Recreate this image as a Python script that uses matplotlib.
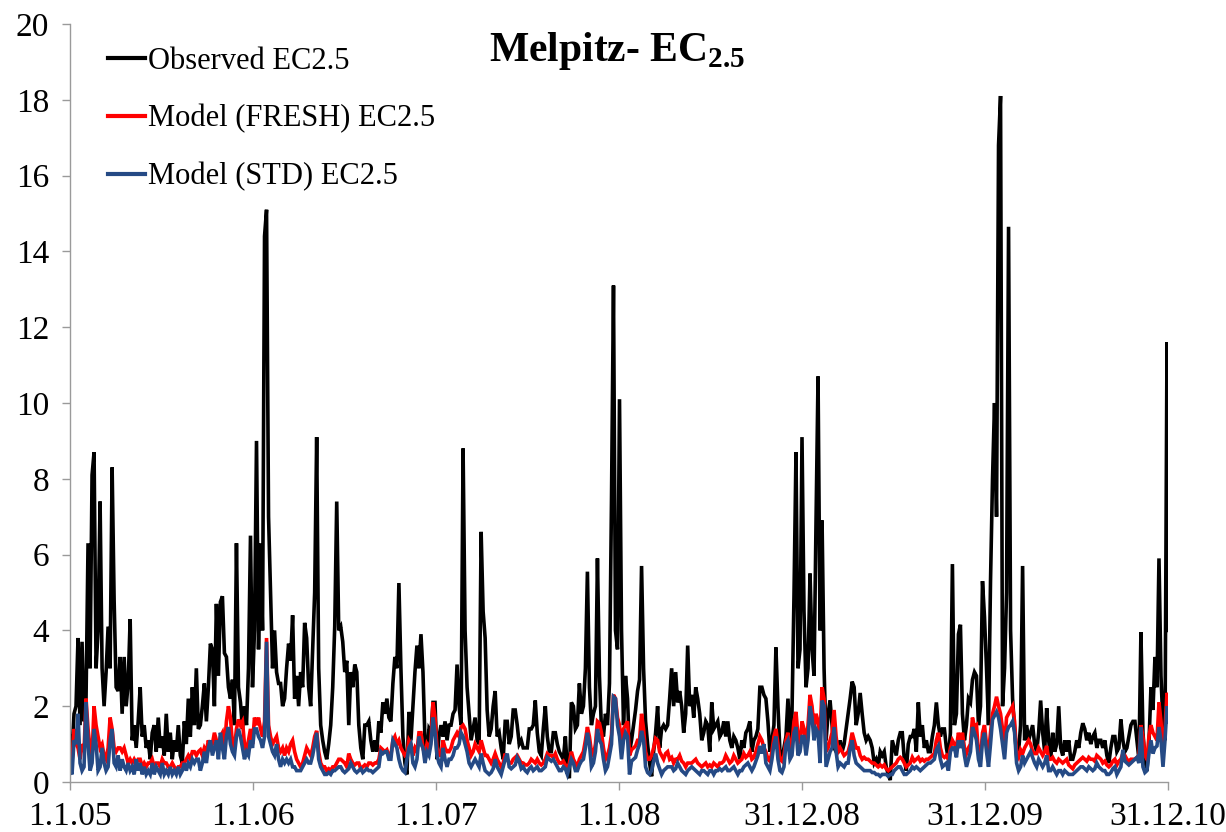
import numpy as np
import pandas as pd
import matplotlib
matplotlib.use("Agg")
import matplotlib.pyplot as plt

# ---------------- data (one value every 4 days) ----------------
start_date = "2005-01-01"
step_days = 4

observed = [
    1.2, 0.8, 1.8, 2.0, 3.8, 1.5, 3.7, 1.6, 2.2, 6.3,
    3.0, 8.1, 8.7, 3.0, 4.0, 7.4, 3.0, 2.0, 2.9, 4.1,
    3.0, 8.3, 4.8, 2.5, 2.4, 3.3, 1.8, 3.3, 2.0, 2.6,
    4.3, 1.1, 1.5, 0.9, 1.6, 2.5, 1.2, 1.5, 0.9, 1.1,
    0.6, 1.3, 1.5, 0.8, 1.7, 0.9, 1.2, 0.7, 1.8, 0.8,
    1.3, 0.6, 1.1, 0.8, 1.5, 0.7, 0.5, 1.6, 1.0, 2.2,
    1.2, 2.5, 1.5, 3.0, 1.4, 1.5, 2.0, 2.6, 1.6, 2.5,
    3.65, 3.5, 2.0, 4.7, 2.8, 4.75, 4.9, 3.4, 3.3, 2.5,
    2.2, 2.7, 1.5, 6.3, 2.5, 2.1, 1.4, 2.0, 1.5, 3.0,
    6.5, 2.5, 4.0, 9.0, 3.5, 6.3, 4.0, 14.4, 15.1, 7.0,
    5.0, 3.0, 4.0, 2.9, 2.6, 2.6, 2.0, 2.2, 3.0, 3.65,
    3.2, 4.4, 2.2, 2.8, 2.0, 2.9, 2.5, 4.2, 3.8, 2.5,
    2.0, 3.5, 5.0, 9.1, 3.0, 1.5, 1.1, 0.8, 0.6, 1.0,
    1.5, 2.5, 4.1, 7.4, 4.0, 4.1, 3.7, 2.9, 3.2, 1.5,
    2.9, 2.5, 3.1, 2.9, 1.5, 0.9, 0.6, 1.5, 1.5, 1.6,
    1.1, 0.8, 1.1, 0.8, 1.6, 1.3, 2.1, 1.8, 2.2, 1.7,
    1.6, 2.6, 3.3, 3.0, 5.25, 3.0, 1.2, 0.5, 0.2, 1.85,
    1.1, 2.0, 2.9, 3.6, 3.0, 3.9, 2.9, 1.1, 0.7, 1.4,
    1.3, 2.1, 2.1, 0.6, 1.2, 1.5, 1.2, 1.6, 1.1, 1.5,
    1.5, 1.8, 1.9, 3.1, 2.0, 1.5, 8.8, 4.0, 2.5, 1.8,
    1.1, 1.4, 1.7, 1.1, 1.0, 6.6, 4.5, 3.8, 1.9, 1.2,
    1.4, 2.0, 2.4, 1.2, 1.3, 0.9, 0.6, 1.6, 1.6, 1.0,
    1.2, 1.9, 1.9, 1.5, 1.0, 1.1, 0.9, 0.9, 0.9, 1.4,
    1.4, 1.5, 2.15, 1.3, 0.8, 0.7, 1.4, 2.0, 1.2, 0.8,
    0.8, 1.3, 1.3, 1.0, 0.8, 0.7, 0.6, 1.2, 0.3, 0.1,
    2.1, 2.0, 1.4, 1.5, 2.6, 1.8, 2.0, 3.0, 5.55, 2.5,
    1.5, 1.8, 2.0, 5.9, 2.8, 1.4, 1.2, 1.8, 1.5, 2.6,
    7.4, 13.1, 4.0, 3.5, 10.1, 4.0, 1.5, 2.8, 2.2, 0.8,
    1.1, 1.5, 1.9, 2.4, 2.7, 5.7, 3.0, 1.6, 1.0, 0.5,
    0.15, 0.8, 1.3, 2.0, 0.9, 1.4, 1.5, 1.4, 1.5, 2.2,
    3.0, 2.0, 2.9, 2.1, 2.4, 2.0, 1.3, 1.8, 3.6, 2.0,
    2.3, 1.7, 2.5, 2.2, 1.8, 1.1, 1.3, 1.6, 1.5, 0.8,
    2.1, 1.4, 1.5, 1.6, 1.2, 1.3, 1.6, 1.2, 1.6, 1.1,
    0.9, 1.2, 1.1, 0.9, 0.6, 1.1, 0.9, 1.3, 1.4, 1.6,
    0.8, 1.1, 1.2, 1.4, 2.5, 2.5, 2.3, 2.2, 1.6, 0.8,
    1.1, 1.5, 3.55, 2.0, 0.8, 0.6, 0.9, 1.2, 2.2, 1.1,
    1.8, 4.9, 8.7, 3.0, 3.5, 9.1, 4.5, 2.5, 3.0, 5.5,
    3.5, 2.8, 6.9, 10.7, 4.0, 6.9, 3.0, 1.1, 1.8, 2.15,
    1.5, 0.9, 0.8, 0.8, 1.1, 0.8, 1.0, 1.4, 1.8, 2.2,
    2.65, 2.5, 1.5, 1.8, 2.35, 1.8, 1.3, 1.1, 1.2, 1.1,
    0.9, 0.5, 0.6, 0.4, 0.8, 0.7, 0.8, 0.4, 0.2, 0.05,
    1.1, 0.9, 0.7, 1.1, 1.3, 1.3, 0.6, 0.3, 1.0, 1.2,
    1.2, 1.4, 0.8, 2.1, 1.2, 1.5, 0.9, 1.1, 0.8, 0.8,
    1.2, 1.5, 2.1, 1.5, 1.2, 1.4, 1.4, 0.9, 0.6, 1.3,
    5.75, 1.5, 1.8, 3.9, 4.15, 1.8, 1.1, 1.5, 2.2, 2.1,
    2.7, 2.9, 2.8, 1.5, 2.0, 5.3, 4.35, 3.0, 1.5, 5.3,
    8.0, 10.0, 7.0, 16.8, 18.1, 2.0, 3.0, 5.0, 14.65, 4.0,
    2.2, 1.4, 0.7, 0.8, 1.5, 5.7, 1.1, 1.5, 1.1, 1.3,
    1.5, 1.0, 0.8, 1.3, 2.15, 1.3, 0.8, 1.95, 1.1, 0.6,
    1.3, 0.8, 1.0, 2.0, 0.9, 0.7, 1.1, 0.8, 1.1, 0.6,
    0.6, 0.8, 1.1, 0.9, 1.3, 1.55, 1.4, 1.1, 1.3, 1.0,
    1.2, 1.3, 0.9, 1.1, 1.1, 0.9, 1.1, 0.7, 0.5, 0.9,
    1.2, 1.2, 0.8, 0.9, 1.65, 1.1, 0.8, 0.9, 1.2, 1.5,
    1.6, 1.6, 1.1, 0.6, 3.95, 1.3, 0.6, 0.3, 1.0, 2.5,
    1.9, 3.3, 2.5, 5.9, 2.8, 1.5, 1.1, 11.6, 4.0,
]

model_fresh = [
    0.7, 0.5, 1.4, 1.0, 0.9, 0.6, 1.0, 0.8, 2.2, 1.4,
    0.9, 0.7, 2.0, 1.5, 1.2, 0.9, 1.0, 0.7, 0.6, 0.9,
    1.7, 1.4, 0.9, 0.8, 0.9, 0.9, 0.8, 0.9, 0.7, 0.5,
    0.6, 0.5, 0.6, 0.5, 0.6, 0.6, 0.4, 0.5, 0.4, 0.5,
    0.5, 0.6, 0.4, 0.5, 0.5, 0.4, 0.6, 0.5, 0.5, 0.4,
    0.4, 0.5, 0.4, 0.3, 0.4, 0.4, 0.5, 0.5, 0.6, 0.7,
    0.6, 0.8, 0.8, 0.7, 0.8, 0.85, 0.7, 0.9, 0.8, 1.1,
    0.9, 1.0, 1.3, 1.1, 0.9, 1.2, 1.3, 0.9, 1.6, 2.0,
    1.7, 1.0, 0.9, 1.4, 1.65, 1.5, 1.6, 1.0, 0.8, 1.1,
    1.4, 1.0, 1.7, 1.5, 1.7, 1.4, 1.2, 1.6, 3.8, 1.5,
    1.2, 1.0, 1.1, 1.2, 0.9, 0.8, 0.9, 0.7, 0.9, 0.8,
    1.0, 1.1, 0.8, 0.6, 0.5, 0.4, 0.5, 0.7, 0.9, 0.8,
    0.7, 0.9, 1.2, 1.35, 0.8, 0.5, 0.4, 0.4, 0.3, 0.35,
    0.3, 0.4, 0.4, 0.5, 0.6, 0.6, 0.55, 0.5, 0.4, 0.75,
    0.6, 0.5, 0.45, 0.5, 0.5, 0.35, 0.4, 0.45, 0.4, 0.5,
    0.5, 0.45, 0.5, 0.5, 0.6, 0.9, 0.85, 0.8, 0.85, 0.7,
    0.7, 1.1, 1.2, 1.0, 1.1, 0.9, 0.8, 0.7, 0.75, 1.1,
    1.0, 0.7, 0.9, 0.8, 1.3, 1.3, 0.9, 0.7, 1.0, 0.9,
    1.1, 2.1, 1.7, 0.9, 0.7, 0.7, 1.1, 0.9, 0.8, 0.8,
    0.9, 1.1, 1.2, 1.3, 1.2, 1.45, 1.5, 1.4, 1.1, 0.9,
    0.7, 0.8, 1.0, 0.9, 0.8, 1.1, 0.9, 0.7, 0.7, 0.6,
    0.5, 0.6, 0.75, 0.6, 0.5, 0.4, 0.5, 0.75, 0.6, 0.5,
    0.5, 0.6, 0.65, 0.7, 0.6, 0.5, 0.5, 0.45, 0.45, 0.5,
    0.6, 0.55, 0.5, 0.6, 0.5, 0.45, 0.5, 0.6, 0.75, 0.7,
    0.7, 0.65, 0.75, 0.6, 0.5, 0.5, 0.55, 0.45, 0.3, 0.5,
    0.8, 0.6, 0.5, 0.4, 0.6, 0.7, 0.8, 1.1, 1.45, 1.2,
    0.8, 0.7, 1.0, 1.6, 1.55, 1.3, 0.9, 0.6, 0.7, 0.9,
    1.25, 2.3, 2.2, 1.7, 1.5, 1.0, 1.4, 1.5, 1.6, 0.7,
    0.85, 0.9, 0.95, 1.1, 1.1, 1.8, 1.4, 0.8, 0.6, 0.6,
    0.7, 0.9, 1.15, 1.1, 0.8, 0.7, 0.6, 0.75, 0.8, 0.6,
    0.65, 0.5, 0.6, 0.6, 0.7, 0.55, 0.5, 0.4, 0.5, 0.5,
    0.5, 0.55, 0.6, 0.5, 0.45, 0.4, 0.45, 0.5, 0.4, 0.45,
    0.4, 0.5, 0.45, 0.4, 0.5, 0.5, 0.55, 0.7, 0.6, 0.5,
    0.55, 0.7, 0.6, 0.5, 0.55, 0.6, 0.75, 0.65, 0.7, 0.8,
    0.6, 0.65, 0.8, 1.0, 1.2, 1.1, 0.9, 0.8, 0.6, 0.55,
    0.8, 1.2, 1.4, 1.0, 0.6, 0.55, 0.7, 1.1, 1.3, 0.9,
    1.0, 1.6, 1.85, 1.2, 1.0, 1.6, 1.4, 1.0, 1.5, 2.3,
    2.0, 1.4, 1.8, 1.6, 1.2, 2.5, 2.2, 0.8, 0.9, 1.1,
    1.3, 1.9, 1.2, 0.8, 0.9, 0.8, 0.7, 0.75, 0.8, 1.0,
    1.3, 1.1, 0.9, 0.9, 0.7, 0.6, 0.65, 0.6, 0.6, 0.55,
    0.5, 0.5, 0.45, 0.4, 0.45, 0.4, 0.45, 0.35, 0.3, 0.35,
    0.4, 0.45, 0.5, 0.6, 0.65, 0.6, 0.5, 0.4, 0.45, 0.5,
    0.65, 0.55, 0.6, 0.65, 0.55, 0.6, 0.55, 0.6, 0.6, 0.65,
    0.7, 0.75, 1.1, 1.3, 0.9, 0.7, 0.65, 0.7, 0.6, 0.9,
    1.1, 1.0, 0.9, 1.3, 1.1, 1.3, 0.9, 0.75, 0.9, 1.0,
    1.7, 1.45, 1.5, 0.75, 0.6, 1.3, 1.5, 1.0, 0.75, 1.3,
    1.8, 2.0, 2.25, 2.0, 1.8, 1.4, 1.0, 1.7, 1.8, 1.9,
    2.0, 1.6, 0.75, 0.65, 0.85, 0.75, 0.9, 1.0, 1.1, 1.0,
    0.8, 0.75, 0.75, 0.9, 0.8, 0.7, 0.8, 0.95, 0.6, 0.6,
    0.65, 0.55, 0.5, 0.6, 0.55, 0.5, 0.55, 0.6, 0.45, 0.4,
    0.35, 0.45, 0.5, 0.55, 0.6, 0.65, 0.6, 0.55, 0.65, 0.6,
    0.6, 0.55, 0.7, 0.65, 0.6, 0.5, 0.55, 0.45, 0.4, 0.45,
    0.55, 0.6, 0.45, 0.55, 0.6, 0.75, 0.7, 0.6, 0.55, 0.6,
    0.6, 0.6, 0.65, 0.7, 1.5, 1.2, 0.7, 0.6, 1.2, 1.5,
    1.3, 1.2, 1.1, 2.1, 1.6, 0.8, 1.4, 2.35, 2.2,
]

model_std = [
    0.3, 0.2, 1.1, 1.0, 1.8, 0.5, 0.3, 0.4, 2.1, 1.0,
    0.3, 0.5, 1.4, 1.0, 0.3, 0.4, 0.9, 0.5, 0.3, 0.4,
    1.1, 1.4, 0.5, 0.4, 0.7, 0.3, 0.6, 0.4, 0.3, 0.5,
    0.3, 0.4, 0.2, 0.6, 0.3, 0.5, 0.2, 0.4, 0.2, 0.3,
    0.2, 0.5, 0.2, 0.4, 0.3, 0.2, 0.5, 0.2, 0.3, 0.2,
    0.4, 0.2, 0.3, 0.2, 0.4, 0.2, 0.3, 0.5, 0.3, 0.5,
    0.4, 0.6, 0.5, 0.6, 0.6, 0.3, 0.5, 0.8, 0.5, 0.9,
    1.1, 0.7, 0.9, 1.1, 0.6, 1.3, 0.9, 0.6, 1.2, 1.45,
    1.0, 0.8, 0.7, 1.2, 1.4, 1.2, 0.9, 0.6, 0.8, 0.7,
    1.1, 0.9, 1.4, 1.4, 1.2, 1.1, 0.9, 1.2, 3.7, 1.2,
    1.0, 0.8, 0.7, 1.0, 0.6, 0.4, 0.6, 0.5, 0.6, 0.5,
    0.6, 0.4, 0.4, 0.3, 0.3, 0.3, 0.4, 0.5, 0.6, 0.5,
    0.5, 0.7, 1.0, 1.3, 0.6, 0.4, 0.3, 0.2, 0.2, 0.25,
    0.2, 0.3, 0.3, 0.35, 0.4, 0.4, 0.3, 0.25, 0.3, 0.35,
    0.5, 0.4, 0.3, 0.25, 0.3, 0.35, 0.25, 0.3, 0.35, 0.3,
    0.3, 0.25, 0.3, 0.35, 0.4, 0.8, 0.75, 0.8, 0.8, 0.6,
    0.6, 1.1, 1.0, 0.9, 0.6, 0.4, 0.3, 0.25, 0.6, 0.9,
    1.0, 0.5, 0.4, 0.6, 1.2, 1.0, 0.9, 0.5, 0.8, 0.7,
    1.0, 1.7, 1.3, 0.7, 0.5, 0.4, 0.9, 0.6, 0.4, 0.6,
    0.6, 0.7, 0.9, 0.9, 1.0, 1.3, 1.2, 1.0, 0.8, 0.5,
    0.4, 0.5, 0.6, 0.5, 0.4, 0.75, 0.5, 0.3, 0.25, 0.2,
    0.25, 0.35, 0.6, 0.4, 0.3, 0.2, 0.4, 0.6, 0.75, 0.4,
    0.35, 0.4, 0.45, 0.65, 0.55, 0.35, 0.4, 0.3, 0.25, 0.35,
    0.4, 0.3, 0.35, 0.4, 0.3, 0.3, 0.35, 0.4, 0.65, 0.6,
    0.55, 0.6, 0.5, 0.4, 0.3, 0.3, 0.4, 0.35, 0.2, 0.4,
    0.6, 0.5, 0.3, 0.3, 0.45, 0.55, 0.6, 0.9, 1.3, 1.0,
    0.4, 0.5, 0.8, 1.4, 1.1, 1.0, 0.6, 0.3, 0.4, 0.7,
    1.0, 2.25, 2.2, 1.5, 1.2, 0.6, 1.1, 1.3, 1.2, 0.2,
    0.55, 0.6, 0.65, 0.85, 1.0, 1.35, 1.1, 0.4, 0.25, 0.2,
    0.3, 0.55, 0.75, 0.5, 0.35, 0.2, 0.3, 0.35, 0.4, 0.4,
    0.4, 0.3, 0.35, 0.5, 0.4, 0.3, 0.25, 0.2, 0.3, 0.35,
    0.4, 0.35, 0.3, 0.25, 0.2, 0.3, 0.3, 0.25, 0.2, 0.3,
    0.3, 0.2, 0.3, 0.3, 0.35, 0.3, 0.35, 0.4, 0.3, 0.3,
    0.35, 0.4, 0.3, 0.2, 0.3, 0.3, 0.4, 0.45, 0.5, 0.4,
    0.3, 0.4, 0.55, 0.7, 0.95, 0.75, 1.0, 0.5, 0.4, 0.3,
    0.6, 1.0, 1.2, 0.6, 0.3, 0.25, 0.4, 1.0, 1.1, 0.6,
    0.7, 1.3, 1.45, 0.7, 0.8, 1.2, 1.2, 0.7, 1.1, 2.0,
    1.7, 1.1, 1.4, 1.3, 0.5, 2.15, 2.0, 0.4, 0.6, 0.8,
    0.9, 1.45, 0.8, 0.4, 0.5, 0.45, 0.4, 0.5, 0.5, 0.9,
    1.1, 0.7, 0.5, 0.45, 0.4, 0.35, 0.3, 0.3, 0.3, 0.3,
    0.25, 0.25, 0.2, 0.2, 0.15, 0.2, 0.2, 0.2, 0.15, 0.2,
    0.2, 0.3, 0.35, 0.4, 0.4, 0.3, 0.2, 0.2, 0.25, 0.3,
    0.4, 0.35, 0.4, 0.35, 0.3, 0.35, 0.4, 0.45, 0.5, 0.5,
    0.55, 0.6, 0.85, 0.95, 0.6, 0.4, 0.45, 0.5, 0.3, 0.8,
    0.9, 0.9, 0.65, 1.1, 0.9, 1.1, 0.7, 0.4, 0.6, 0.8,
    1.45, 1.3, 1.1, 0.6, 0.4, 1.1, 1.3, 0.8, 0.4, 1.0,
    1.65, 1.75, 1.85, 1.7, 1.4, 1.0, 0.6, 1.3, 1.45, 1.5,
    1.6, 1.3, 0.5, 0.3, 0.4, 0.7, 0.5, 0.6, 0.7, 0.8,
    0.65, 0.5, 0.4, 0.6, 0.5, 0.4, 0.5, 0.7, 0.3, 0.3,
    0.4, 0.3, 0.2, 0.3, 0.3, 0.2, 0.3, 0.25, 0.2, 0.2,
    0.2, 0.25, 0.3, 0.35, 0.4, 0.4, 0.35, 0.3, 0.4, 0.35,
    0.3, 0.35, 0.5, 0.4, 0.35, 0.3, 0.3, 0.2, 0.2, 0.25,
    0.35, 0.4, 0.2, 0.3, 0.4, 0.85, 0.55, 0.5, 0.45, 0.5,
    0.55, 0.6, 0.65, 0.5, 1.45, 0.4, 0.25, 0.3, 0.75, 1.1,
    0.75, 0.9, 0.95, 1.45, 1.1, 0.4, 1.1, 2.0, 1.6,
]

series_labels = ["Observed EC2.5", "Model (FRESH) EC2.5", "Model (STD) EC2.5"]
series_colors = ["#000000", "#ff0000", "#254a85"]

tick_dates = ["2005-01-01", "2006-01-01", "2007-01-01", "2008-01-01",
              "2008-12-31", "2009-12-31", "2010-12-31"]
tick_labels = ["1.1.05", "1.1.06", "1.1.07", "1.1.08",
               "31.12.08", "31.12.09", "31.12.10"]
y_ticks = list(range(0, 21, 2))
title_text = r"Melpitz- EC$_{\mathbf{2.5}}$"

# ---------------- figure ----------------
plt.rcParams["font.family"] = ["Liberation Serif", "DejaVu Serif"]
plt.rcParams["mathtext.fontset"] = "custom"
plt.rcParams["mathtext.rm"] = "Liberation Serif"
plt.rcParams["mathtext.bf"] = "Liberation Serif:bold"

W, H = 1226, 832
fig = plt.figure(figsize=(W / 100, H / 100), dpi=100)
ax = fig.add_axes([70 / W, 1 - 782 / H, 1098 / W, 758 / H])

for vals, lab, col, lw in zip([observed, model_fresh, model_std],
                              series_labels, series_colors, [2.6, 2.6, 2.6]):
    d = pd.date_range(start_date, periods=len(vals), freq=f"{step_days}D")
    ax.plot(d, vals, color=col, lw=lw, label=lab, solid_joinstyle="miter")

ax.set_xlim(pd.Timestamp(tick_dates[0]), pd.Timestamp(tick_dates[-1]))
ax.set_ylim(0, 20)
ax.set_yticks(y_ticks)
ax.set_yticklabels([str(v) for v in y_ticks])
ax.set_xticks(pd.to_datetime(tick_dates))
ax.set_xticklabels(tick_labels)

for s in ["top", "right"]:
    ax.spines[s].set_visible(False)
for s in ["left", "bottom"]:
    ax.spines[s].set_color("#9a9a9a")
    ax.spines[s].set_linewidth(1.0)
ax.tick_params(axis="both", direction="out", color="#9a9a9a", width=1.0,
               length=6, labelsize=24, labelcolor="black")
ax.tick_params(axis="x", pad=8)
ax.tick_params(axis="y", pad=9)

leg = ax.legend(loc="upper left", bbox_to_anchor=(108 / W, 1 - 47 / H),
                bbox_transform=fig.transFigure, frameon=False, fontsize=22,
                handlelength=1.2, handletextpad=0.12, labelspacing=0.93,
                borderpad=0, borderaxespad=0)
for h in leg.get_lines():
    h.set_linewidth(3.0)

fig.text(617 / W, 1 - 61 / H, title_text, ha="center", va="baseline",
         fontsize=30, fontweight="bold")

fig.savefig("out.png", dpi=100)
